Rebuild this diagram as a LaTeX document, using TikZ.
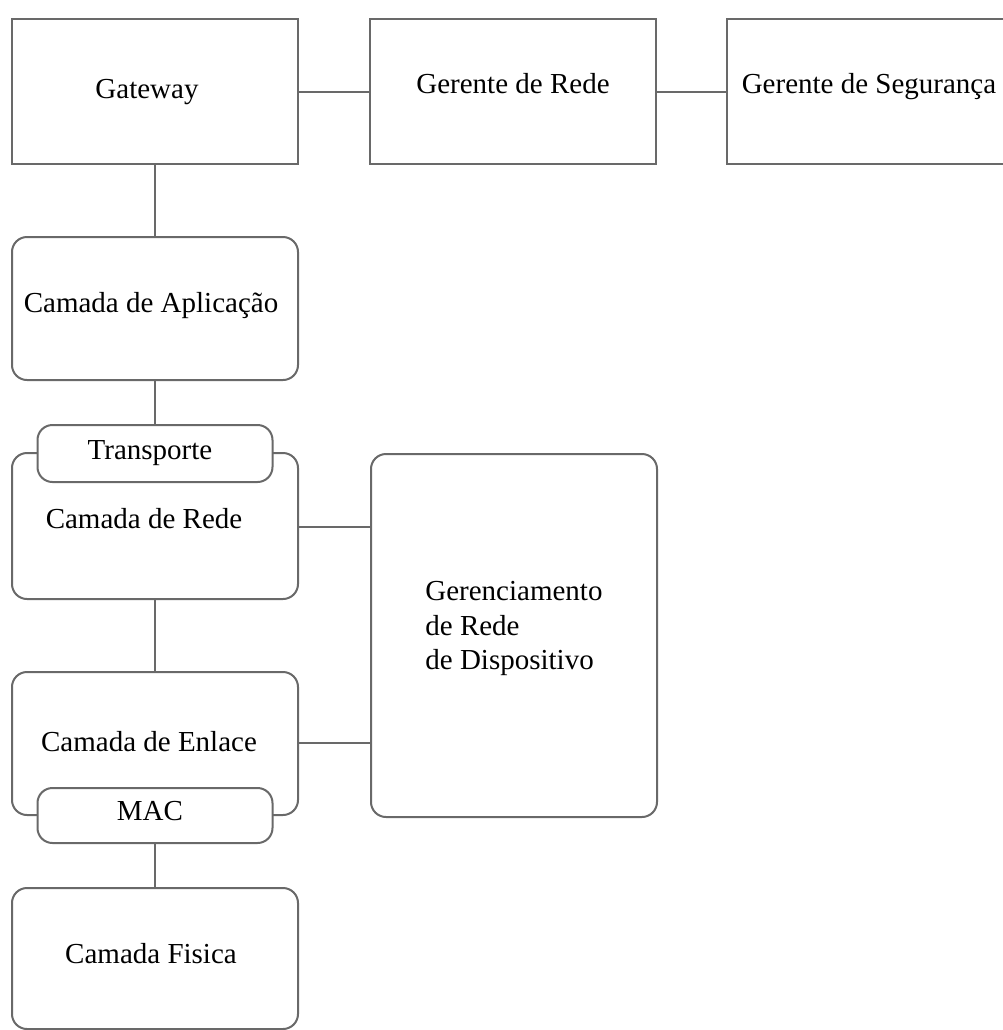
\documentclass[tikz,border=0pt]{standalone}
\usepackage{fontspec}
\setmainfont{Liberation Serif}
\begin{document}
\begin{tikzpicture}[x=0.5pt, y=-0.5pt,
  edge/.style={draw={rgb,255:red,105;green,105;blue,105}, line width=1pt},
  sqbox/.style={edge, fill=white, rectangle, inner sep=0pt, minimum width=143pt},
  rbox/.style={sqbox, rounded corners=7.5pt},
  tabbox/.style={rbox, minimum width=117.5pt},
  lbl/.style={inner sep=0pt, anchor=base, text=black, font=\fontsize{14.5pt}{17.25pt}\selectfont}]
\useasboundingbox (0,0) rectangle (1003,1030);
\begin{scope}
\clip (0,0) rectangle (1003,1030);

% top row: gateway and the two managers
\node[sqbox, minimum height=72.5pt] (gw) at (155,91.5) {};
\node[sqbox, minimum height=72.5pt] (gr) at (513,91.5) {};
\node[sqbox, minimum height=72.5pt] (gs) at (870,91.5) {};

% protocol stack
\node[rbox, minimum height=71.5pt] (apl) at (155,308.5) {};
\node[rbox, minimum height=73pt] (rede) at (155,526) {};
\node[tabbox, minimum height=28.5pt] (tr) at (155,453.5) {};
\node[rbox, minimum height=71.5pt] (enl) at (155,743.5) {};
\node[tabbox, minimum height=27.5pt] (mac) at (155,815.5) {};
\node[rbox, minimum height=70.5pt] (fis) at (155,958.5) {};

% device network management
\node[rbox, minimum height=181.5pt] (ger) at (514,635.5) {};

% connectors
\draw[edge] (gw.east) -- (gr.west);
\draw[edge] (gr.east) -- (gs.west);
\draw[edge] (gw.south) -- (apl.north);
\draw[edge] (apl.south) -- (tr.north);
\draw[edge] (rede.south) -- (enl.north);
\draw[edge] (mac.south) -- (fis.north);
\draw[edge] (rede.east |- 0,527) -- (ger.west |- 0,527);
\draw[edge] (enl.east |- 0,743) -- (ger.west |- 0,743);

% labels
\node[lbl] (tgw) at (147,98) {Gateway};
\node[lbl] (tgr) at (513,93) {Gerente de Rede};
\node[lbl] (tgs) at (869,93) {Gerente de Segurança};
\node[lbl] (tapl) at (151,312) {Camada de Aplicação};
\node[lbl] (ttr) at (150,459) {Transporte};
\node[lbl] (trede) at (144,528) {Camada de Rede};
\node[lbl] (tenl) at (149,751) {Camada de Enlace};
\node[lbl] (tmac) at (150,820) {MAC};
\node[lbl] (tfis) at (151,963) {Camada Fisica};
\node[lbl, anchor=north west, align=left] (tger) at (425,581)
  {Gerenciamento\\de Rede\\de Dispositivo};
\end{scope}
\end{tikzpicture}
\end{document}
